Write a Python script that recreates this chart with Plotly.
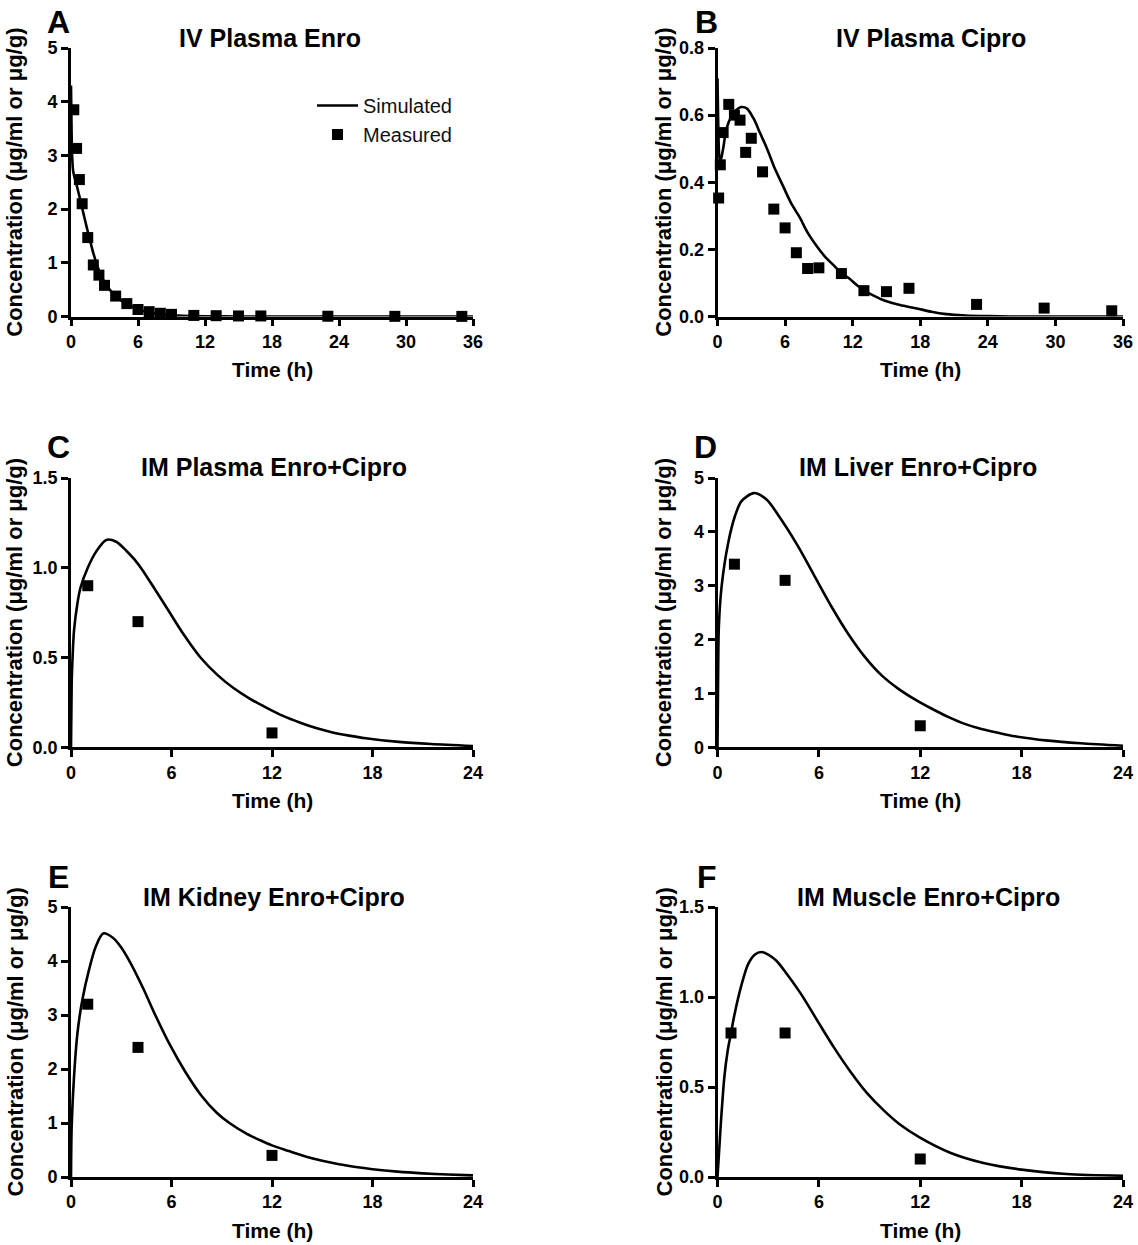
import plotly.graph_objects as go

# ---------------- data ----------------
# Panel A: IV Plasma Enro
A_meas_t = [0.25, 0.5, 0.75, 1, 1.5, 2, 2.5, 3, 4, 5, 6, 7, 8, 9, 11, 13, 15, 17, 23, 29, 35]
A_meas_c = [3.85, 3.13, 2.55, 2.10, 1.47, 0.96, 0.77, 0.58, 0.38, 0.24, 0.13, 0.09, 0.06, 0.04,
            0.02, 0.015, 0.01, 0.01, 0.005, 0.003, 0.002]
A_sim_t = [0, 0.05, 0.1, 0.2, 0.5, 0.8, 1.1, 1.4, 1.7, 2.0, 2.3, 2.6, 3.0, 3.5, 4.0, 4.5, 5.0,
           5.75, 6.5, 7.25, 8.0, 9.0, 10, 12, 15, 20, 28, 36]
A_sim_c = [4.3, 3.5, 3.0, 2.7, 2.45, 2.2, 1.93, 1.67, 1.42, 1.18, 0.98, 0.81, 0.64, 0.49, 0.38,
           0.30, 0.235, 0.16, 0.10, 0.065, 0.04, 0.022, 0.012, 0.004, 0.001, 0.0, 0.0, 0.0]

# Panel B: IV Plasma Cipro
B_meas_t = [0.1, 0.25, 0.5, 1, 1.5, 2, 2.5, 3, 4, 5, 6, 7, 8, 9, 11, 13, 15, 17, 23, 29, 35]
B_meas_c = [0.353, 0.452, 0.548, 0.632, 0.600, 0.585, 0.489, 0.531, 0.431, 0.320, 0.264, 0.190,
            0.143, 0.145, 0.128, 0.077, 0.074, 0.084, 0.036, 0.025, 0.017]
B_sim_t = [0, 0.05, 0.15, 0.25, 0.5, 0.8, 1.24, 1.6, 2.1, 2.6, 3.2, 3.8, 4.4, 5.1, 5.8, 6.5, 7.3,
           8.0, 8.8, 9.5, 10.3, 11.0, 11.7, 12.5, 13.2, 14.0, 14.7, 16.2, 17.7, 19.0, 20.3, 22.0,
           24.0, 27.0, 36]
B_sim_c = [0.71, 0.60, 0.48, 0.46, 0.50, 0.56, 0.597, 0.613, 0.624, 0.62, 0.59, 0.545, 0.50, 0.44,
           0.39, 0.34, 0.295, 0.25, 0.21, 0.18, 0.153, 0.13, 0.113, 0.09, 0.074, 0.06, 0.049,
           0.034, 0.024, 0.014, 0.007, 0.003, 0.001, 0.0, 0.0]

# Panel C: IM Plasma Enro+Cipro
C_meas_t = [1, 4, 12]
C_meas_c = [0.90, 0.70, 0.08]
C_sim_t = [0, 0.04, 0.08, 0.18, 0.38, 0.57, 1.0, 1.5, 2.1, 2.7, 3.3, 3.8, 4.24, 4.77, 5.76, 6.75,
           7.73, 8.72, 9.7, 10.69, 11.68, 12.66, 13.65, 14.63, 15.62, 16.6, 17.6, 19.57,
           21.5, 24]
C_sim_c = [0, 0.35, 0.47, 0.65, 0.80, 0.89, 1.0, 1.09, 1.155, 1.145, 1.095, 1.045, 0.99, 0.915,
           0.77, 0.625, 0.50, 0.405, 0.33, 0.27, 0.22, 0.175, 0.138, 0.107, 0.083, 0.065,
           0.05, 0.03, 0.018, 0.007]

# Panel D: IM Liver Enro+Cipro
D_meas_t = [1, 4, 12]
D_meas_c = [3.4, 3.1, 0.4]
D_sim_t = [0, 0.04, 0.08, 0.24, 0.63, 1.03, 1.42, 2.15, 2.9, 3.79, 4.77, 5.76, 6.75, 7.73, 8.72,
           9.7, 10.69, 11.68, 12.66, 13.65, 14.63, 15.62, 16.6, 17.6, 19.57, 21.5, 24]
D_sim_c = [0, 1.43, 2.24, 2.98, 3.79, 4.29, 4.57, 4.72, 4.6, 4.22, 3.73, 3.17, 2.61, 2.11, 1.68,
           1.34, 1.09, 0.89, 0.72, 0.565, 0.435, 0.34, 0.27, 0.205, 0.124, 0.075, 0.03]

# Panel E: IM Kidney Enro+Cipro
E_meas_t = [1, 4, 12]
E_meas_c = [3.2, 2.4, 0.4]
E_sim_t = [0, 0.04, 0.18, 0.38, 0.67, 1.07, 1.47, 1.92, 2.5, 3.0, 3.45, 4.3, 5.03, 5.9, 6.82, 7.8,
           8.7, 9.5, 10.5, 11.3, 12, 13, 14, 15, 16, 17, 18, 19.5, 21, 22.5, 24]
E_sim_c = [0, 0.93, 1.85, 2.65, 3.27, 3.83, 4.26, 4.51, 4.43, 4.25, 4.02, 3.5, 3.0, 2.45, 1.95,
           1.5, 1.19, 0.99, 0.8, 0.68, 0.585, 0.48, 0.38, 0.3, 0.235, 0.185, 0.145, 0.1, 0.068,
           0.045, 0.03]

# Panel F: IM Muscle Enro+Cipro
F_meas_t = [0.8, 4, 12]
F_meas_c = [0.8, 0.8, 0.1]
F_sim_t = [0, 0.1, 0.2, 0.4, 0.6, 0.8, 1.0, 1.4, 1.8, 2.2, 2.6, 3.0, 3.5, 3.93, 4.92, 5.9, 6.89,
           7.87, 8.85, 9.84, 10.82, 11.96, 13.77, 15.74, 18, 20.66, 24]
F_sim_c = [0, 0.15, 0.30, 0.55, 0.70, 0.80, 0.90, 1.06, 1.18, 1.235, 1.25, 1.235, 1.20, 1.15,
           1.02, 0.87, 0.72, 0.585, 0.466, 0.37, 0.29, 0.22, 0.135, 0.078, 0.041, 0.017, 0.007]

panel_letters = ["A", "B", "C", "D", "E", "F"]
panel_titles = ["IV Plasma Enro", "IV Plasma Cipro", "IM Plasma Enro+Cipro",
                "IM Liver Enro+Cipro", "IM Kidney Enro+Cipro", "IM Muscle Enro+Cipro"]
x_label = "Time (h)"
y_label = "Concentration (\u03bcg/ml or \u03bcg/g)"
legend_names = ["Simulated", "Measured"]

# ---------------- layout geometry ----------------
W, H = 1138, 1245
FONT = "Arial, Liberation Sans, sans-serif"

col_px = [(71, 473), (717.5, 1123)]
row_px = [(48, 316.5), (478, 747.3), (907, 1177)]

panels = [
    dict(mt=A_meas_t, mc=A_meas_c, st=A_sim_t, sc=A_sim_c, xr=36, yr=5, dy=1, fmt=None),
    dict(mt=B_meas_t, mc=B_meas_c, st=B_sim_t, sc=B_sim_c, xr=36, yr=0.8, dy=0.2, fmt=".1f"),
    dict(mt=C_meas_t, mc=C_meas_c, st=C_sim_t, sc=C_sim_c, xr=24, yr=1.5, dy=0.5, fmt=".1f"),
    dict(mt=D_meas_t, mc=D_meas_c, st=D_sim_t, sc=D_sim_c, xr=24, yr=5, dy=1, fmt=None),
    dict(mt=E_meas_t, mc=E_meas_c, st=E_sim_t, sc=E_sim_c, xr=24, yr=5, dy=1, fmt=None),
    dict(mt=F_meas_t, mc=F_meas_c, st=F_sim_t, sc=F_sim_c, xr=24, yr=1.5, dy=0.5, fmt=".1f"),
]

title_pos = [(270, 38), (931, 38), (274, 467), (918, 467), (274, 897), (928, 897)]
letter_pos = [(58.5, 22), (706, 22), (58.5, 447), (705.5, 447), (58.5, 877), (707, 877)]

fig = go.Figure()
annotations = []
layout_axes = {}

def px_x(v):
    return v / W

def px_y(v):
    return 1 - v / H

for i, p in enumerate(panels):
    r, c = divmod(i, 2)
    n = i + 1
    xa = "x" if n == 1 else f"x{n}"
    ya = "y" if n == 1 else f"y{n}"
    fig.add_trace(go.Scatter(
        x=p["st"], y=p["sc"], mode="lines", name=legend_names[0],
        line=dict(color="black", width=2.6, shape="spline", smoothing=0.8),
        xaxis=xa, yaxis=ya, showlegend=(i == 0)))
    fig.add_trace(go.Scatter(
        x=p["mt"], y=p["mc"], mode="markers", name=legend_names[1],
        marker=dict(symbol="square", size=11, color="black", line=dict(width=0)),
        xaxis=xa, yaxis=ya, cliponaxis=False, showlegend=(i == 0)))

    x0, x1 = col_px[c]
    y0, y1 = row_px[r]
    axis_common = dict(showline=True, linecolor="black", linewidth=2.6, ticks="outside",
                       ticklen=7, tickwidth=2.6, tickcolor="black", showgrid=False,
                       zeroline=False, automargin=False,
                       tickfont=dict(family=FONT, size=18, color="black", weight="bold"))
    layout_axes["xaxis" if n == 1 else f"xaxis{n}"] = dict(
        domain=[px_x(x0), px_x(x1)], range=[0, p["xr"]], tick0=0, dtick=6,
        anchor=ya, **axis_common)
    yax = dict(domain=[px_y(y1), px_y(y0)], range=[0, p["yr"]], tick0=0, dtick=p["dy"],
               anchor=xa, **axis_common)
    if p["fmt"]:
        yax["tickformat"] = p["fmt"]
    layout_axes["yaxis" if n == 1 else f"yaxis{n}"] = yax

    # panel title
    tx, ty = title_pos[i]
    annotations.append(dict(text=panel_titles[i], x=px_x(tx), y=px_y(ty), xref="paper",
                            yref="paper", showarrow=False, xanchor="center", yanchor="middle",
                            font=dict(family=FONT, size=25, color="black", weight="bold")))
    # panel letter
    lx, ly = letter_pos[i]
    annotations.append(dict(text=panel_letters[i], x=px_x(lx), y=px_y(ly), xref="paper",
                            yref="paper", showarrow=False, xanchor="center", yanchor="middle",
                            font=dict(family=FONT, size=32, color="black", weight="bold")))
    # x axis title
    annotations.append(dict(text=x_label, x=px_x((x0 + x1) / 2), y=px_y(y1 + 53),
                            xref="paper", yref="paper", showarrow=False, xanchor="center",
                            yanchor="middle",
                            font=dict(family=FONT, size=21, color="black", weight="bold")))
    # y axis title
    ytx = 14.5 if c == 0 else 663.5
    annotations.append(dict(text=y_label, x=px_x(ytx), y=px_y((y0 + y1) / 2),
                            xref="paper", yref="paper", showarrow=False, textangle=-90,
                            xanchor="center", yanchor="middle",
                            font=dict(family=FONT, size=22, color="black", weight="bold")))

fig.update_layout(
    width=W, height=H,
    margin=dict(l=0, r=0, t=0, b=0, autoexpand=False),
    paper_bgcolor="white", plot_bgcolor="white",
    showlegend=True,
    legend=dict(x=px_x(312), y=px_y(86), xanchor="left", yanchor="top",
                bgcolor="rgba(0,0,0,0)", borderwidth=0, itemwidth=41, tracegroupgap=0,
                font=dict(family=FONT, size=20, color="#111111")),
    annotations=annotations,
    **layout_axes,
)

fig.write_html("out.html", config={"displayModeBar": False},
               post_script="document.body.style.margin='0';document.body.style.overflow='hidden';")
